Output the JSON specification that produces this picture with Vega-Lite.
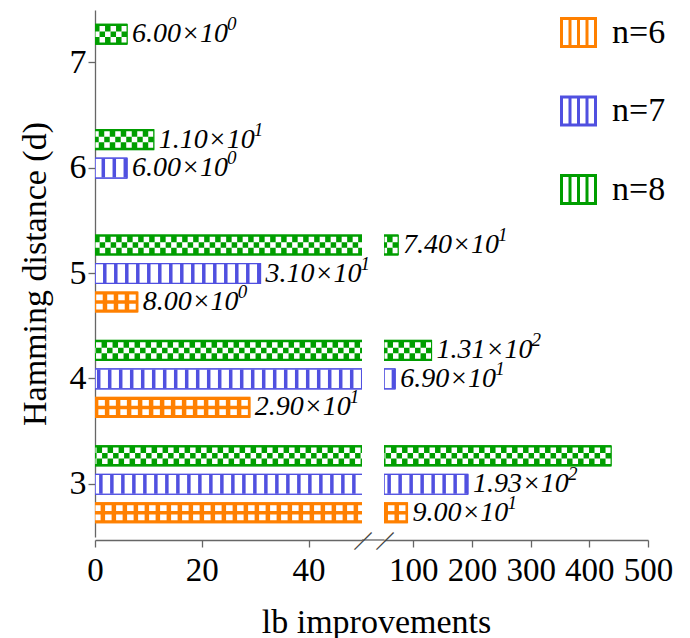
{
  "$schema": "https://vega.github.io/schema/vega-lite/v6.json",
  "padding": {"left": 18, "top": 10, "right": 0, "bottom": 0},
  "datasets": {
    "bars": [
      {"d": 3, "n": 6, "v": 90, "lab": "9.00×10", "exp": "1"},
      {"d": 3, "n": 7, "v": 193, "lab": "1.93×10", "exp": "2"},
      {"d": 3, "n": 8, "v": 437, "lab": "", "exp": ""},
      {"d": 4, "n": 6, "v": 29, "lab": "2.90×10", "exp": "1"},
      {"d": 4, "n": 7, "v": 69, "lab": "6.90×10", "exp": "1"},
      {"d": 4, "n": 8, "v": 131, "lab": "1.31×10", "exp": "2"},
      {"d": 5, "n": 6, "v": 8, "lab": "8.00×10", "exp": "0"},
      {"d": 5, "n": 7, "v": 31, "lab": "3.10×10", "exp": "1"},
      {"d": 5, "n": 8, "v": 74, "lab": "7.40×10", "exp": "1"},
      {"d": 6, "n": 7, "v": 6, "lab": "6.00×10", "exp": "0"},
      {"d": 6, "n": 8, "v": 11, "lab": "1.10×10", "exp": "1"},
      {"d": 7, "n": 8, "v": 6, "lab": "6.00×10", "exp": "0"}
    ]
  },
  "data": {"name": "bars"},
  "config": {
    "view": {"stroke": null},
    "font": "Liberation Serif, Times New Roman, serif",
    "text": {"font": "Liberation Serif, Times New Roman, serif"},
    "style": {"guide-label": {"font": "Liberation Serif, Times New Roman, serif"}, "guide-title": {"font": "Liberation Serif, Times New Roman, serif"}},
    "axis": {"grid": false, "domainColor": "#666", "tickColor": "#666", "domainWidth": 1.3, "tickWidth": 1.3, "labelColor": "#000", "titleColor": "#000", "labelFont": "Liberation Serif, Times New Roman, serif", "titleFont": "Liberation Serif, Times New Roman, serif", "titleFontWeight": "normal"},
    "legend": {"labelFont": "Liberation Serif, Times New Roman, serif"}
  },
  "spacing": 22,
  "bounds": "flush",
  "resolve": {"scale": {"x": "independent"}, "legend": {"color": "independent"}},
  "hconcat": [
    {
      "width": 267,
      "height": 527,
      "layer": [
        {
          "encoding": {
            "y": {"field": "d", "type": "ordinal", "scale": {"domain": [7, 6, 5, 4, 3], "paddingInner": 0, "paddingOuter": 0},
                  "axis": {"title": "Hamming distance (d)", "titleFont": "Liberation Serif, Times New Roman, serif", "labelFont": "Liberation Serif, Times New Roman, serif", "titleFontSize": 34, "labelFontSize": 34, "tickSize": 7, "labelPadding": 2, "titlePadding": 17, "labelAngle": 0}},
            "yOffset": {"field": "n", "type": "ordinal", "scale": {"domain": [8, 7, 6], "paddingInner": 0.3, "paddingOuter": 0.5}},
            "x": {"field": "v", "type": "quantitative", "scale": {"domain": [0, 50]},
                  "axis": {"values": [0, 20, 40], "title": "lb improvements", "titleFont": "Liberation Serif, Times New Roman, serif", "labelFont": "Liberation Serif, Times New Roman, serif", "titleX": 281, "labelFontSize": 33, "labelFlush": false, "labelOverlap": false, "tickSize": 7, "labelPadding": 7, "titleFontSize": 34, "titlePadding": 18, "offset": 3}}
          },
          "layer": [
            {"mark": {"type": "bar", "clip": true, "strokeWidth": 1.2},
             "encoding": {
               "fill": {"field": "n", "type": "nominal", "scale": {"domain": [6, 7, 8], "range": ["#FF8000", "#FFFFFF", "#009E00"]}, "legend": null},
               "stroke": {"field": "n", "type": "nominal", "scale": {"domain": [6, 7, 8], "range": ["#FF8000", "#5050E0", "#009E00"]}, "legend": null}
             }},
            {"transform": [{"filter": "datum.n == 7"}], "mark": {"type": "rule", "clip": true, "color": "#5050E0", "strokeWidth": 19, "strokeDash": [3.5, 7.5]}, "encoding": {"x2": {"datum": 0}}},
            {"transform": [{"filter": "datum.n == 6"}], "mark": {"type": "rule", "clip": true, "color": "#FFFFFF", "strokeWidth": 15, "strokeDash": [6.5, 4.5], "strokeDashOffset": -2}, "encoding": {"x2": {"datum": 0}}},
            {"transform": [{"filter": "datum.n == 6"}], "mark": {"type": "rule", "clip": true, "color": "#FF8000", "strokeWidth": 3.5}, "encoding": {"x2": {"datum": 0}}},
            {"transform": [{"filter": "datum.n == 8"}], "mark": {"type": "rule", "clip": true, "color": "#FFFFFF", "strokeWidth": 16.5, "strokeDash": [5.5, 5.5]}, "encoding": {"x2": {"datum": 0}}},
            {"transform": [{"filter": "datum.n == 8"}], "mark": {"type": "rule", "clip": true, "color": "#FFFFFF", "strokeWidth": 5.5}, "encoding": {"x2": {"datum": 0}}},
            {"transform": [{"filter": "datum.n == 8"}], "mark": {"type": "rule", "clip": true, "color": "#009E00", "strokeWidth": 5.5, "strokeDash": [5.5, 5.5]}, "encoding": {"x2": {"datum": 0}}},
            {"mark": {"type": "bar", "clip": true, "filled": false},
             "encoding": {"color": {"field": "n", "type": "nominal", "scale": {"domain": [6, 7, 8], "range": ["#FF8000", "#5050E0", "#009E00"]}, "legend": null}}},
            {"transform": [{"filter": "datum.v < 50"}], "mark": {"type": "text", "align": "left", "baseline": "middle", "dx": 5, "fontSize": 28, "fontStyle": "italic", "color": "#000", "font": "Liberation Serif, Times New Roman, serif"}, "encoding": {"text": {"field": "lab"}}},
            {"transform": [{"filter": "datum.v < 50"}], "mark": {"type": "text", "align": "left", "baseline": "middle", "dx": 100, "dy": -10, "fontSize": 19, "fontStyle": "italic", "color": "#000", "font": "Liberation Serif, Times New Roman, serif"}, "encoding": {"text": {"field": "exp"}}}
          ]
        },
        {"data": {"values": [{}]}, "mark": {"type": "rule", "color": "#666", "strokeWidth": 1.3},
         "encoding": {"x": {"datum": 50, "type": "quantitative"}, "x2": {"datum": 54.2}, "y": {"value": {"expr": "height + 3"}}}},
        {"data": {"values": [{}]}, "mark": {"type": "text", "text": "—", "angle": -45, "fontSize": 24, "align": "center", "baseline": "middle", "color": "#444"},
         "encoding": {"x": {"datum": 50, "type": "quantitative"}, "y": {"value": {"expr": "height + 3"}}}}
      ]
    },
    {
      "width": 264,
      "height": 527,
      "layer": [
        {
          "transform": [{"filter": "datum.v >= 50"}],
          "encoding": {
            "y": {"field": "d", "type": "ordinal", "scale": {"domain": [7, 6, 5, 4, 3], "paddingInner": 0, "paddingOuter": 0}, "axis": null},
            "yOffset": {"field": "n", "type": "ordinal", "scale": {"domain": [8, 7, 6], "paddingInner": 0.3, "paddingOuter": 0.5}},
            "x": {"field": "v", "type": "quantitative", "scale": {"domain": [50, 500]},
                  "axis": {"values": [100, 200, 300, 400, 500], "title": null, "labelFont": "Liberation Serif, Times New Roman, serif", "labelFontSize": 33, "labelFlush": false, "labelOverlap": false, "tickSize": 7, "labelPadding": 7, "offset": 3}}
          },
          "layer": [
            {"mark": {"type": "bar", "clip": true, "strokeWidth": 1.2},
             "encoding": {
               "x2": {"datum": 50},
               "fill": {"field": "n", "type": "nominal", "scale": {"domain": [6, 7, 8], "range": ["#FF8000", "#FFFFFF", "#009E00"]}, "legend": null},
               "stroke": {"field": "n", "type": "nominal", "scale": {"domain": [6, 7, 8], "range": ["#FF8000", "#5050E0", "#009E00"]}, "legend": null}
             }},
            {"transform": [{"filter": "datum.n == 7"}], "mark": {"type": "rule", "clip": true, "color": "#5050E0", "strokeWidth": 19, "strokeDash": [3.5, 7.5]}, "encoding": {"x2": {"datum": 50}}},
            {"transform": [{"filter": "datum.n == 6"}], "mark": {"type": "rule", "clip": true, "color": "#FFFFFF", "strokeWidth": 15, "strokeDash": [6.5, 4.5], "strokeDashOffset": -2}, "encoding": {"x2": {"datum": 50}}},
            {"transform": [{"filter": "datum.n == 6"}], "mark": {"type": "rule", "clip": true, "color": "#FF8000", "strokeWidth": 3.5}, "encoding": {"x2": {"datum": 50}}},
            {"transform": [{"filter": "datum.n == 8"}], "mark": {"type": "rule", "clip": true, "color": "#FFFFFF", "strokeWidth": 16.5, "strokeDash": [5.5, 5.5]}, "encoding": {"x2": {"datum": 50}}},
            {"transform": [{"filter": "datum.n == 8"}], "mark": {"type": "rule", "clip": true, "color": "#FFFFFF", "strokeWidth": 5.5}, "encoding": {"x2": {"datum": 50}}},
            {"transform": [{"filter": "datum.n == 8"}], "mark": {"type": "rule", "clip": true, "color": "#009E00", "strokeWidth": 5.5, "strokeDash": [5.5, 5.5]}, "encoding": {"x2": {"datum": 50}}},
            {"mark": {"type": "bar", "clip": true, "filled": false},
             "encoding": {
               "x2": {"datum": 50},
               "color": {"field": "n", "type": "nominal", "scale": {"domain": [6, 7, 8], "range": ["#FF8000", "#5050E0", "#009E00"]},
                         "legend": {"orient": "none", "legendX": 176, "legendY": 4, "title": null, "symbolType": "M-1,-0.82H1V0.82H-1ZM-0.5,-0.82V0.82M0,-0.82V0.82M0.5,-0.82V0.82", "symbolSize": 1156, "symbolStrokeWidth": 3, "labelFont": "Liberation Serif, Times New Roman, serif", "labelFontSize": 34, "labelColor": "#000", "labelOffset": 15, "rowPadding": 37.5, "padding": 0, "labelExpr": "'n=' + datum.label"}}
             }},
            {"mark": {"type": "text", "align": "left", "baseline": "middle", "dx": 5, "fontSize": 28, "fontStyle": "italic", "color": "#000", "font": "Liberation Serif, Times New Roman, serif"}, "encoding": {"text": {"field": "lab"}}},
            {"mark": {"type": "text", "align": "left", "baseline": "middle", "dx": 100, "dy": -10, "fontSize": 19, "fontStyle": "italic", "color": "#000", "font": "Liberation Serif, Times New Roman, serif"}, "encoding": {"text": {"field": "exp"}}}
          ]
        },
        {"data": {"values": [{}]}, "mark": {"type": "text", "text": "—", "angle": -45, "fontSize": 24, "align": "center", "baseline": "middle", "color": "#444"},
         "encoding": {"x": {"datum": 50, "type": "quantitative"}, "y": {"value": {"expr": "height + 3"}}}}
      ]
    }
  ]
}
